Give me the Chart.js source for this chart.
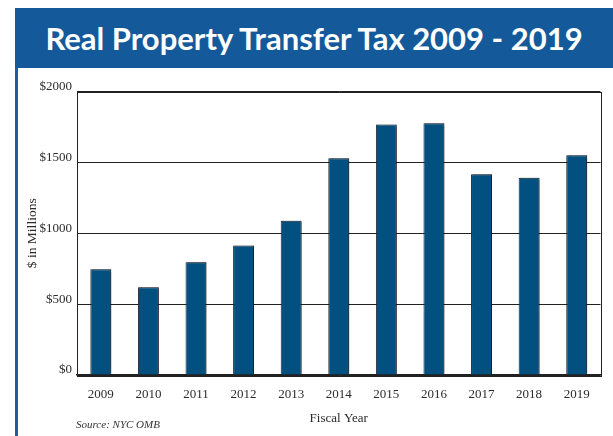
<!DOCTYPE html>
<html>
<head>
<meta charset="utf-8">
<script src="https://cdn.jsdelivr.net/npm/chart.js@4.4.1/dist/chart.umd.min.js"></script>
<style>
  html, body { margin: 0; padding: 0; background: #fff; }
  #page { position: relative; width: 613px; height: 436px; overflow: hidden; }
  #header {
    position: absolute; left: 15px; top: 8px; width: 598px; height: 60px;
    background: #145a9b; color: #fff;
    font-family: "Lato", sans-serif; font-weight: 700; font-size: 31px;
    line-height: 60px; text-align: center; white-space: nowrap;
  }
  #sideRule { position: absolute; left: 15px; top: 68px; width: 3px; height: 368px; background: #1f5f9e; }
  #chartBox { position: absolute; left: 0; top: 70px; width: 613px; height: 366px; }
  #source {
    position: absolute; left: 76px; top: 418px;
    font-family: "Liberation Serif", serif; font-style: italic; font-size: 11px; color: #333;
  }
</style>
</head>
<body>
<div id="page">
  <div id="header">Real Property Transfer Tax 2009 - 2019</div>
  <div id="sideRule"></div>
  <div id="chartBox"><canvas id="rptt"></canvas></div>
  <div id="source">Source: NYC OMB</div>
</div>

<script>
// ================= DATA =================
const fiscalYears = ["2009", "2010", "2011", "2012", "2013", "2014", "2015", "2016", "2017", "2018", "2019"];
const rpttMillions = [746, 619, 795, 913, 1089, 1529, 1767, 1776, 1417, 1391, 1551];
const yTicks = [0, 500, 1000, 1500, 2000];

const serif = "'Liberation Serif', 'Times New Roman', serif";
const ink = "#2b2b2b";

// box around the plot area (right side has no axis of its own)
const plotFrame = {
  id: "plotFrame",
  afterDatasetsDraw(chart) {
    const { ctx, chartArea: a } = chart;
    ctx.save();
    ctx.strokeStyle = "#222";
    ctx.lineWidth = 1;
    ctx.strokeRect(Math.round(a.left) + 0.5, Math.round(a.top) + 0.5,
                   Math.round(a.right - a.left), Math.round(a.bottom - a.top));
    ctx.restore();
  }
};

// slight drop shadow behind the bars
const barShadow = {
  id: "barShadow",
  beforeDatasetsDraw(chart) {
    const ctx = chart.ctx;
    ctx.save();
    ctx.shadowColor = "rgba(0,0,0,0.35)";
    ctx.shadowOffsetX = 1.5;
    ctx.shadowOffsetY = -1;
    ctx.shadowBlur = 1;
  },
  afterDatasetsDraw(chart) {
    chart.ctx.restore();
  }
};

new Chart(document.getElementById("rptt"), {
  type: "bar",
  data: {
    labels: fiscalYears,
    datasets: [{
      data: rpttMillions,
      backgroundColor: "#01507f",
      borderColor: "#1c2530",
      borderWidth: 1,
      categoryPercentage: 1,
      barPercentage: 0.44
    }]
  },
  options: {
    responsive: true,
    maintainAspectRatio: false,
    animation: false,
    layout: { padding: { top: 21.5, right: 12.5, left: 0, bottom: 0 } },
    plugins: { legend: { display: false }, tooltip: { enabled: false } },
    scales: {
      y: {
        min: 0,
        max: 2000,
        afterFit(scale) { scale.width = 77; },
        afterBuildTicks(scale) { scale.ticks = yTicks.map(v => ({ value: v })); },
        ticks: {
          callback: v => "$" + v,
          font: { family: serif, size: 13 },
          color: ink,
          padding: 5,
          labelOffset: -5
        },
        grid: { color: "#222", lineWidth: 1, drawTicks: false },
        border: { display: true, color: "#222" },
        title: {
          display: true,
          text: "$ in Millions",
          font: { family: serif, size: 13.5 },
          color: ink,
          padding: { top: 24, bottom: 0 }
        }
      },
      x: {
        afterFit(scale) { scale.height = 61; },
        ticks: {
          font: { family: serif, size: 13 },
          color: ink,
          padding: 12,
          maxRotation: 0
        },
        grid: { display: false, drawTicks: false },
        border: { display: true, color: "#222", width: 1.5 },
        title: {
          display: true,
          text: "Fiscal Year",
          font: { family: serif, size: 13 },
          color: ink,
          padding: { top: 0, bottom: 10 }
        }
      }
    }
  },
  plugins: [barShadow, plotFrame]
});
</script>
</body>
</html>
